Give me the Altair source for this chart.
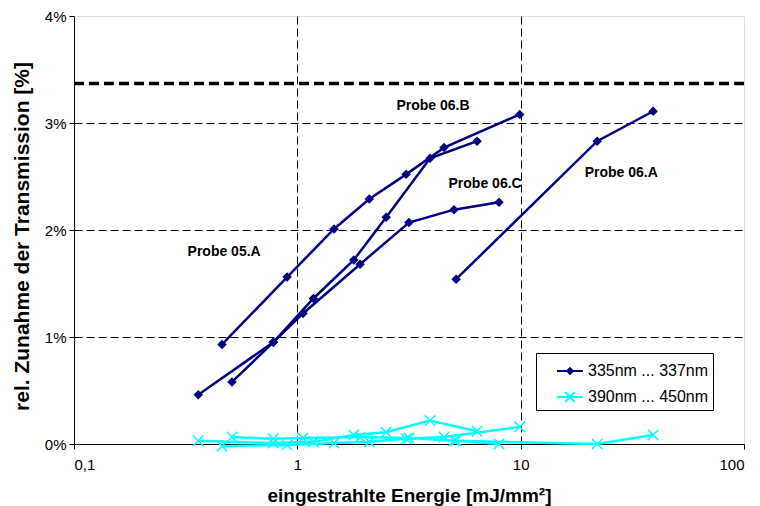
import altair as alt
import pandas as pd

# ---------------- data ----------------
wavelengths = ["335nm ... 337nm", "390nm ... 450nm"]
wl_colors = ["#000080", "#00FFFF"]

probes = ["05.A", "06.B", "06.C", "06.A"]

energy_05A = [0.46, 0.90, 1.46, 2.10, 3.07, 4.54, 9.9]
uv_05A = [0.93, 1.56, 2.01, 2.29, 2.52, 2.77, 3.08]
vis_05A = [-0.02, -0.01, 0.01, 0.02, 0.05, 0.065, 0.16]

energy_06B = [0.36, 0.78, 1.18, 1.79, 2.50, 3.93, 6.38]
uv_06B = [0.46, 0.95, 1.36, 1.72, 2.12, 2.67, 2.83]
vis_06B = [0.03, 0.01, 0.02, 0.085, 0.11, 0.22, 0.12]

energy_06C = [0.51, 0.78, 1.06, 1.91, 3.16, 5.03, 8.0]
uv_06C = [0.58, 0.95, 1.22, 1.68, 2.07, 2.19, 2.26]
vis_06C = [0.065, 0.05, 0.055, 0.065, 0.055, 0.03, 0.0]

energy_06A = [5.14, 22.0, 39.2]
uv_06A = [1.54, 2.83, 3.11]
vis_06A = [0.03, 0.0, 0.085]

threshold = [3.37]

label_texts = ["Probe 05.A", "Probe 06.B", "Probe 06.C", "Probe 06.A"]
label_energy = [0.47, 4.05, 6.93, 28.2]
label_value = [1.79, 3.16, 2.43, 2.53]

x_ticks = [0.1, 1, 10, 100]
y_ticks = [0, 1, 2, 3, 4]

# ---------------- build table ----------------
series = [
    ("05.A", energy_05A, uv_05A, vis_05A),
    ("06.B", energy_06B, uv_06B, vis_06B),
    ("06.C", energy_06C, uv_06C, vis_06C),
    ("06.A", energy_06A, uv_06A, vis_06A),
]
rows = []
for name, E, uv, vis in series:
    for i, (e, v) in enumerate(zip(E, uv)):
        rows.append({"E": e, "val": v, "wl": wavelengths[0], "probe": name + "uv", "idx": i})
    for i, (e, v) in enumerate(zip(E, vis)):
        rows.append({"E": e, "val": v, "wl": wavelengths[1], "probe": name + "vis", "idx": i})
df = pd.DataFrame(rows)
labels_df = pd.DataFrame({"text": label_texts, "E": label_energy, "val": label_value})
thr_df = pd.DataFrame({"val": threshold})

FONT = "Liberation Sans"

x_enc = alt.X(
    "E:Q",
    scale=alt.Scale(type="log", domain=[0.1, 100]),
    axis=alt.Axis(
        values=x_ticks,
        labelExpr="datum.value < 1 ? '0,1' : format(datum.value, 'd')",
        grid=True,
        gridDash=[8, 4],
        gridColor="#000000",
        gridWidth=1,
        gridOpacity={"condition": {"test": "datum.value >= 100 || datum.value <= 0.1", "value": 0}, "value": 1},
        domainColor="#000000",
        tickColor="#000000",
        tickSize=5,
        labelPadding=8,
        labelFont=FONT,
        labelFontSize=15,
        labelColor="#000000",
        title="eingestrahlte Energie [mJ/mm²]",
        titleFont=FONT,
        titleFontSize=19,
        titleFontWeight="bold",
        titleColor="#000000",
        titleX=335,
        titleY=51,
        titleBaseline="middle",
    ),
)
y_enc = alt.Y(
    "val:Q",
    scale=alt.Scale(domain=[0, 4], nice=False, zero=False),
    axis=alt.Axis(
        values=y_ticks,
        labelExpr="datum.value + '%'",
        grid=True,
        gridDash=[8, 4],
        gridColor="#000000",
        gridWidth=1,
        gridOpacity={"condition": {"test": "datum.value >= 4 || datum.value <= 0", "value": 0}, "value": 1},
        domainColor="#000000",
        tickColor="#000000",
        tickSize=5,
        labelPadding=3,
        labelFont=FONT,
        labelFontSize=15,
        labelColor="#000000",
        title="rel. Zunahme der Transmission [%]",
        titleFont=FONT,
        titleFontSize=21,
        titleFontWeight="bold",
        titleColor="#000000",
        titleAngle=270,
        titleX=-52,
        titleY=220,
        titleAlign="center",
        titleBaseline="middle",
    ),
)

color_scale = alt.Scale(domain=wavelengths, range=wl_colors)

base = alt.Chart(df)

legend_def = alt.Legend(
    orient="none",
    legendX=462,
    legendY=337,
    title=None,
    strokeColor="#000000",
    fillColor="#FFFFFF",
    padding=4,
    symbolSize=676,
    symbolStrokeWidth=2,
    symbolOffset=16,
    labelFont=FONT,
    labelFontSize=16,
    labelColor="#000000",
    labelOffset=4,
    rowPadding=4,
    labelExpr="datum.label + '\u00a0\u00a0\u00a0\u00a0'",
)
legend_shapes = [
    "M-1,0H1M0,-0.22L0.22,0L0,0.22L-0.22,0Z",
    "M-1,0H1M-0.38,-0.38L0.38,0.38M-0.38,0.38L0.38,-0.38",
]
legend_layer = base.mark_point(filled=False, opacity=0).encode(
    x=x_enc,
    y=y_enc,
    color=alt.Color("wl:N", scale=color_scale, legend=legend_def),
    shape=alt.Shape("wl:N", scale=alt.Scale(domain=wavelengths, range=legend_shapes), legend=legend_def),
)

thr = alt.Chart(thr_df).mark_rule(color="#000000", strokeWidth=3.5, strokeDash=[10, 5]).encode(
    y="val:Q"
)

lines = base.mark_line(strokeWidth=2.5).encode(
    x="E:Q",
    y="val:Q",
    color=alt.Color("wl:N", scale=color_scale, legend=None),
    detail="probe:N",
    order="idx:Q",
)

pts_uv = base.transform_filter(alt.datum.wl == wavelengths[0]).mark_point(
    shape="diamond", filled=True, size=90, opacity=1
).encode(
    x="E:Q", y="val:Q",
    color=alt.Color("wl:N", scale=color_scale, legend=None),
)

pts_vis = base.transform_filter(alt.datum.wl == wavelengths[1]).mark_point(
    shape="M-1,-1L1,1M-1,1L1,-1", filled=False, size=110, strokeWidth=1.5, opacity=1
).encode(
    x="E:Q", y="val:Q",
    color=alt.Color("wl:N", scale=color_scale, legend=None),
)

texts = alt.Chart(labels_df).mark_text(
    font=FONT, fontSize=14, fontWeight="bold", color="#000000", align="center", baseline="middle"
).encode(x="E:Q", y="val:Q", text="text:N")

chart = alt.layer(legend_layer, thr, lines, pts_uv, pts_vis, texts).resolve_legend(
    color="independent", shape="independent"
).properties(
    width=670,
    height=428,
    autosize=alt.AutoSizeParams(type="none"),
    padding={"left": 74, "top": 16, "right": 16, "bottom": 62},
).configure_view(stroke=None).configure(background="#FFFFFF")

chart.save("out.html", embed_options={"renderer": "svg", "actions": False})
